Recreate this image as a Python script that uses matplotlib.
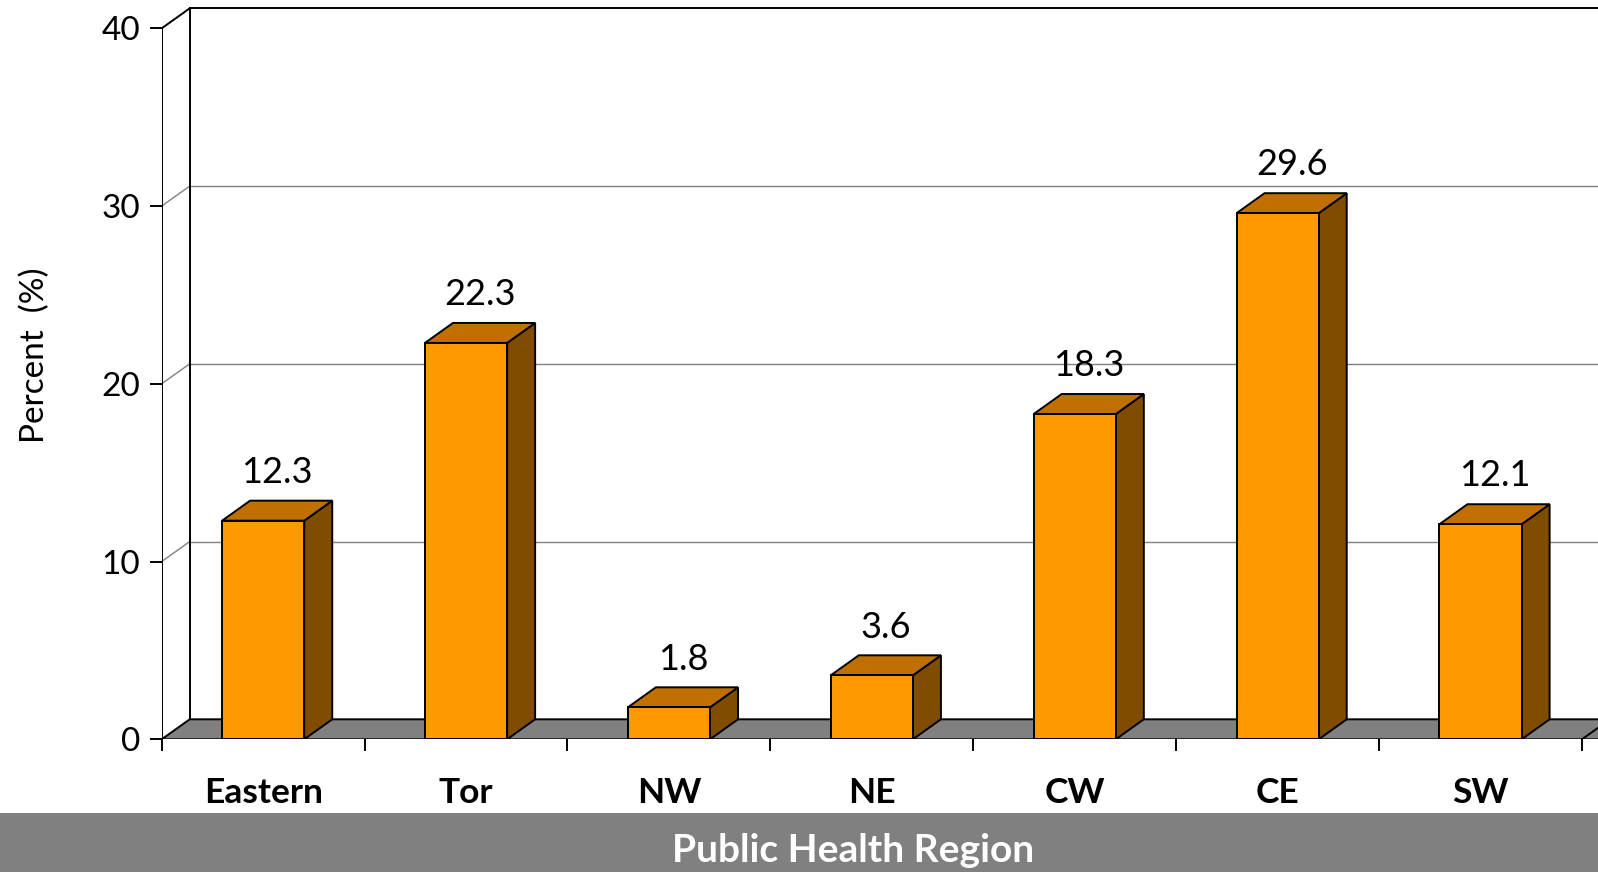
import numpy as np
import matplotlib.pyplot as plt
from matplotlib.patches import Polygon, Rectangle

plt.rcParams['font.family'] = ['Lato', 'DejaVu Sans']

# data
regions = ["Eastern", "Tor", "NW", "NE", "CW", "CE", "SW"]
percent = [12.3, 22.3, 1.8, 3.6, 18.3, 29.6, 12.1]
y_ticks = [0, 10, 20, 30, 40]

FRONT = "#ff9900"
TOP = "#c07000"
SIDE = "#7f4c00"
GREY = "#808080"

DX, DY = 0.138, 1.125   # fake 3d depth, in data units
BAR_W = 0.405
LW = 1.4

fig = plt.figure(figsize=(15.98, 8.72), dpi=100)
ax = fig.add_axes([0.10119, 0.15218, 0.89881, 0.83979])
ax.set_xlim(-0.5, 6.579)
ax.set_ylim(0, 41.2)
for s in ax.spines.values():
    s.set_visible(False)

x = np.arange(len(regions))
x0 = -0.5
x1 = len(regions) - 0.5
right = 8.0  # walls run off the right edge

# back wall grid + left wall diagonals
for t in y_ticks[1:]:
    col = 'black' if t == y_ticks[-1] else GREY
    lw = LW if t == y_ticks[-1] else 1.0
    ax.plot([x0 + DX, right], [t + DY, t + DY], color=col, lw=lw, zorder=1, solid_capstyle='butt')
    ax.plot([x0, x0 + DX], [t, t + DY], color=col, lw=lw, zorder=1)

# walls edges
ax.plot([x0, x0], [0, y_ticks[-1]], color='black', lw=LW, zorder=6)
ax.plot([x0 + DX, x0 + DX], [DY, y_ticks[-1] + DY], color='black', lw=LW, zorder=1)

# floor
floor = Polygon([(x0, 0), (right, 0), (right + DX, DY), (x0 + DX, DY)],
                closed=True, facecolor=GREY, edgecolor='black', lw=LW, zorder=2)
ax.add_patch(floor)
ax.plot([x1, x1 + DX], [0, DY], color='black', lw=LW, zorder=2)

# bars
ax.bar(x, percent, width=BAR_W, color=FRONT, edgecolor='black', lw=LW, zorder=5)
for c, v in zip(x, percent):
    l, r = c - BAR_W / 2, c + BAR_W / 2
    side = Polygon([(r, 0), (r + DX, DY), (r + DX, v + DY), (r, v)],
                   closed=True, facecolor=SIDE, edgecolor='black', lw=LW, zorder=4)
    top = Polygon([(l, v), (r, v), (r + DX, v + DY), (l + DX, v + DY)],
                  closed=True, facecolor=TOP, edgecolor='black', lw=LW, zorder=4)
    ax.add_patch(side)
    ax.add_patch(top)
    ax.text(c + DX / 2, v + DY + 1.0, f"{v}", ha='center', va='baseline',
            fontsize=26, zorder=7)

# ticks
ax.set_yticks(y_ticks)
ax.set_yticklabels([str(t) for t in y_ticks], fontsize=24)
ax.tick_params(axis='y', direction='out', length=8.6, width=LW, pad=7)
ax.set_xticks(np.arange(x0, x1 + 0.01, 1))
ax.set_xticklabels([])
ax.tick_params(axis='x', which='major', direction='out', length=8.6, width=LW)
ax.set_xticks(x, minor=True)
ax.set_xticklabels(regions, minor=True, fontsize=25.5, fontweight='bold')
ax.tick_params(axis='x', which='minor', length=0, pad=27)

ax.set_ylabel("Percent  (%)", fontsize=24)
ax.yaxis.set_label_coords(-0.078, 0.524)

# grey band with axis title
fig.add_artist(Rectangle((0, 0), 1, 1 - 813.3 / 872, transform=fig.transFigure,
                         facecolor=GREY, edgecolor='none', zorder=0))
fig.text(0.534, 0.012, "Public Health Region", color='white', fontsize=28,
         fontweight='bold', ha='center', va='baseline')

fig.savefig("out.png", dpi=100)
